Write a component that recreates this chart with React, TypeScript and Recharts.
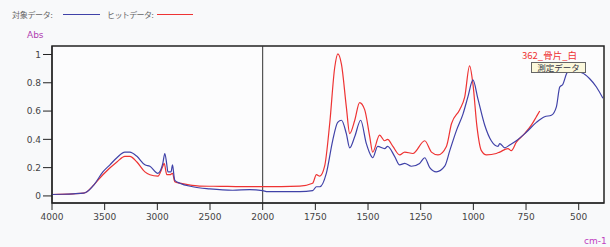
import { LineChart, Line, XAxis, YAxis, ReferenceArea, ReferenceLine } from "recharts";

// wavenumbers (cm-1) and absorbance
const blueWn = [
  4000, 3900, 3800, 3700, 3668, 3600, 3517, 3450, 3384, 3308, 3261, 3194, 3118, 3071, 2995, 2948, 2929, 2910,
  2900, 2870, 2856, 2840, 2834, 2787, 2664, 2502, 2284, 2123, 2000, 1976, 1824, 1763, 1745, 1729, 1698, 1668,
  1644, 1626, 1603, 1587, 1563, 1535, 1508, 1484, 1478, 1454, 1421, 1407, 1374, 1350, 1326, 1294, 1255, 1231,
  1207, 1176, 1136, 1112, 1081, 1049, 1026, 1002, 979, 946, 915, 883, 875, 851, 828, 796, 749, 701, 662, 630,
  606, 590, 575, 559, 544, 520, 496, 472, 449, 416, 385,
];
const blueAbs = [
  0.01, 0.012, 0.015, 0.02, 0.03, 0.08, 0.17, 0.22, 0.27, 0.31, 0.31, 0.28, 0.22, 0.21, 0.16, 0.23, 0.3, 0.22,
  0.17, 0.17, 0.22, 0.13, 0.11, 0.09, 0.065, 0.05, 0.04, 0.045, 0.037, 0.03, 0.03, 0.037, 0.065, 0.065, 0.16, 0.39,
  0.52, 0.535, 0.44, 0.34, 0.42, 0.535, 0.37, 0.28, 0.27, 0.35, 0.335, 0.35, 0.28, 0.22, 0.23, 0.21, 0.23, 0.27,
  0.2, 0.17, 0.21, 0.32, 0.46, 0.58, 0.7, 0.82, 0.69, 0.5, 0.39, 0.35, 0.37, 0.34, 0.36, 0.39, 0.45, 0.52, 0.56, 0.57,
  0.63, 0.77, 0.79, 0.86, 0.9, 0.92, 0.88, 0.86, 0.83, 0.77, 0.69,
];

const redWn = [
  4000, 3800, 3700, 3668, 3600, 3517, 3384, 3308, 3261, 3194, 3118, 3071, 2995, 2948, 2935, 2910, 2880, 2856,
  2834, 2787, 2700, 2600, 2400, 2200, 2000, 1824, 1763, 1745, 1729, 1706, 1682, 1658, 1643, 1626, 1603, 1587,
  1563, 1540, 1516, 1492, 1478, 1445, 1421, 1407, 1382, 1350, 1326, 1287, 1231, 1199, 1168, 1128, 1104, 1065,
  1041, 1018, 1002, 983, 962, 938, 891, 875, 836, 820, 796, 757, 725, 701, 685,
];
const redAbs = [
  0.01, 0.015, 0.02, 0.03, 0.08, 0.15, 0.24, 0.28, 0.28, 0.24, 0.17, 0.15, 0.14, 0.21, 0.23, 0.15, 0.15, 0.16,
  0.1, 0.09, 0.078, 0.07, 0.068, 0.066, 0.066, 0.07, 0.09, 0.15, 0.14, 0.21, 0.51, 0.91, 1.005, 0.93, 0.63, 0.44,
  0.535, 0.66, 0.61, 0.42, 0.31, 0.43, 0.39, 0.4, 0.35, 0.29, 0.31, 0.3, 0.39, 0.31, 0.29, 0.35, 0.51, 0.61,
  0.7, 0.92, 0.79, 0.49, 0.32, 0.29, 0.3, 0.31, 0.335, 0.32, 0.38, 0.44, 0.5, 0.56, 0.6,
];

const xTickLabels = [4000, 3500, 3000, 2500, 2000, 1750, 1500, 1250, 1000, 750, 500];
const yTicks = [0, 0.1, 0.2, 0.3, 0.4, 0.5, 0.6, 0.7, 0.8, 0.9, 1];

// axis is split at 2000 cm-1: the low side is stretched 2x
const toT = (w: number) => (w >= 2000 ? 4000 - w : 2000 + (2000 - w) * 2);
const fromT = (t: number) => (t <= 2000 ? 4000 - t : 2000 - (t - 2000) / 2);

const blueData = blueWn.map((w, i) => ({ t: toT(w), v: blueAbs[i] }));
const redData = redWn.map((w, i) => ({ t: toT(w), v: redAbs[i] }));

const X_MAX = toT(380);
const font = "'DejaVu Sans', sans-serif";
const jp = "'Noto Sans CJK JP', sans-serif";

const abs = (left: number, top: number, extra: React.CSSProperties = {}): React.CSSProperties => ({
  position: "absolute",
  left,
  top,
  whiteSpace: "nowrap",
  ...extra,
});

export default function App() {
  return (
    <div
      style={{
        position: "fixed",
        left: 0,
        top: 0,
        width: 610,
        height: 247,
        background: "#f8f9fa",
        fontFamily: font,
      }}
    >
      <LineChart width={610} height={247} margin={{ top: 46, right: 6, left: 0, bottom: 14 }}>
        <ReferenceArea
          x1={0}
          x2={X_MAX}
          y1={-0.05}
          y2={1.06}
          fill="#fcfcfd"
          fillOpacity={1}
          stroke="#222"
          strokeWidth={1.5}
          ifOverflow="visible"
        />
        <XAxis
          type="number"
          dataKey="t"
          domain={[0, X_MAX]}
          ticks={xTickLabels.map(toT)}
          tickFormatter={(t: number) => String(Math.round(fromT(t)))}
          allowDataOverflow
          height={30}
          tickSize={7}
          tickMargin={4}
          axisLine={{ stroke: "#222" }}
          tickLine={{ stroke: "#222" }}
          tick={{ fontSize: 9, fill: "#444", fontFamily: font }}
        />
        <YAxis
          type="number"
          domain={[-0.05, 1.06]}
          ticks={yTicks}
          allowDataOverflow
          width={52}
          tickSize={9}
          tickMargin={2}
          axisLine={{ stroke: "#222" }}
          tickLine={{ stroke: "#222" }}
          tick={{ fontSize: 9, fill: "#444", fontFamily: font }}
        />
        <ReferenceLine x={2000} stroke="#333" strokeWidth={1} />
        <Line
          data={redData}
          dataKey="v"
          type="monotone"
          stroke="#ee3333"
          strokeWidth={1.2}
          dot={false}
          isAnimationActive={false}
        />
        <Line
          data={blueData}
          dataKey="v"
          type="monotone"
          stroke="#4042a8"
          strokeWidth={1.2}
          dot={false}
          isAnimationActive={false}
        />
      </LineChart>

      {/* legend */}
      <div style={abs(12, 10, { fontSize: 8, lineHeight: "10px", color: "#666", fontFamily: jp, letterSpacing: -0.3 })}>
        対象データ:
      </div>
      <div style={abs(63, 14, { width: 37, height: 1.2, background: "#4042a8" })} />
      <div style={abs(107, 10, { fontSize: 8, lineHeight: "10px", color: "#666", fontFamily: jp, letterSpacing: -0.6 })}>
        ヒットデータ:
      </div>
      <div style={abs(157, 14, { width: 36, height: 1.2, background: "#ee3333" })} />

      <div style={abs(27, 30, { fontSize: 9, lineHeight: "10px", color: "#b040b0" })}>Abs</div>
      <div style={abs(584, 236, { fontSize: 9, lineHeight: "10px", color: "#c040c0" })}>cm-1</div>

      {/* annotation */}
      <div style={abs(522, 50, { fontSize: 9.5, lineHeight: "11px", color: "#ee3333", fontFamily: jp })}>
        362_骨片_白
      </div>
      <div
        style={abs(531, 62, {
          width: 53,
          height: 9,
          background: "#fbf8dc",
          border: "1px solid #666",
          fontSize: 8.5,
          lineHeight: "9px",
          color: "#334",
          fontFamily: jp,
          textAlign: "center",
        })}
      >
        測定データ
      </div>
    </div>
  );
}
